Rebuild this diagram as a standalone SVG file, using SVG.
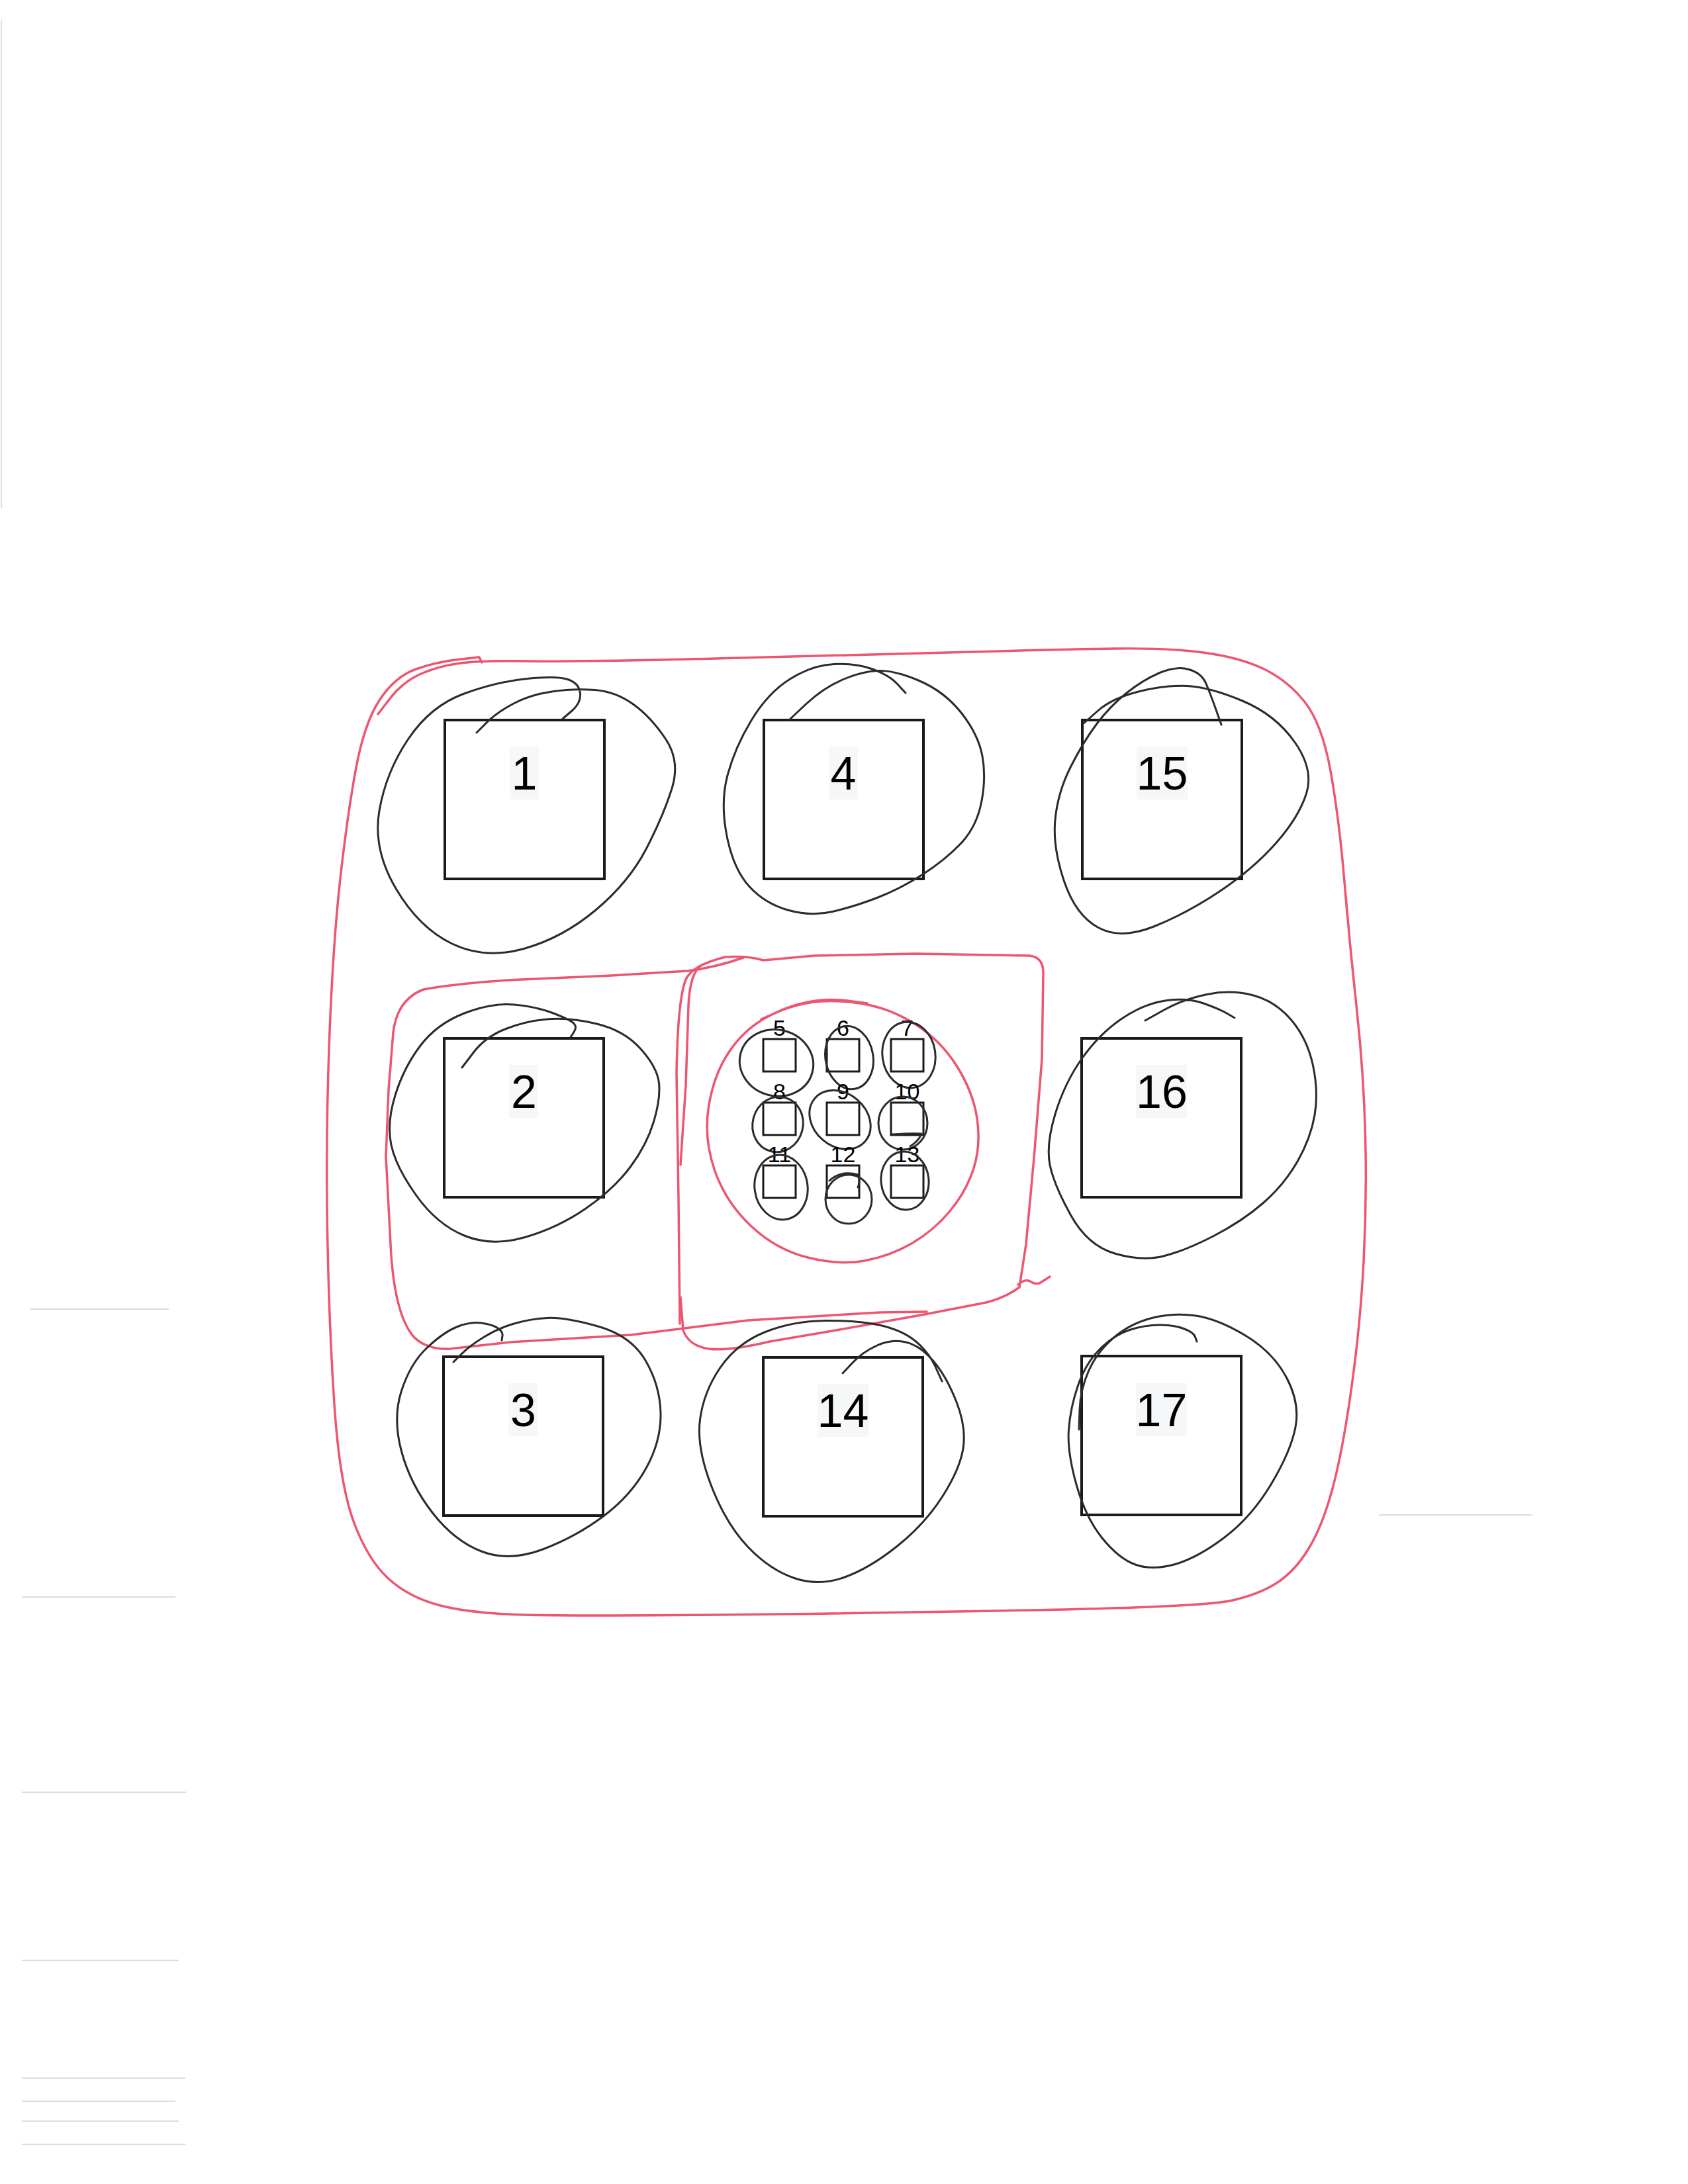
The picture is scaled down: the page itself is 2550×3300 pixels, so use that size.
<svg xmlns="http://www.w3.org/2000/svg" width="2550" height="3300" viewBox="0 0 2550 3300">
<style>
.box{fill:none;stroke:#1a1a1a;stroke-width:4}
.sbox{fill:none;stroke:#1a1a1a;stroke-width:3}
.loop{fill:none;stroke:#2b2b2b;stroke-width:3;stroke-linecap:round;stroke-linejoin:round}
.red{fill:none;stroke:#ec5670;stroke-width:3.5;stroke-linecap:round;stroke-linejoin:round}
.bg{fill:#f6f7f9}
.lbl{font-family:"Liberation Sans",Arial,sans-serif;font-size:70px;text-anchor:middle;fill:#000}
.slbl{font-family:"Liberation Sans",Arial,sans-serif;font-size:34px;text-anchor:middle;fill:#000}
.scan{stroke:#c8c8c8;stroke-width:2;opacity:0.6}
</style>
<rect width="2550" height="3300" fill="#ffffff"/>
<g id="scan-marks">
<line class="scan" x1="2" y1="31" x2="2" y2="768" stroke-width="4"/>
<line class="scan" x1="33" y1="2413" x2="265" y2="2413"/>
<line class="scan" x1="33" y1="2708" x2="281" y2="2708"/>
<line class="scan" x1="45" y1="1978" x2="255" y2="1978" opacity="0.3"/>
<line class="scan" x1="33" y1="2962" x2="270" y2="2962" opacity="0.4"/>
<line class="scan" x1="33" y1="3140" x2="280" y2="3140"/>
<line class="scan" x1="33" y1="3175" x2="265" y2="3175"/>
<line class="scan" x1="33" y1="3205" x2="270" y2="3205"/>
<line class="scan" x1="33" y1="3240" x2="280" y2="3240"/>
<line class="scan" x1="2083" y1="2289" x2="2315" y2="2289" opacity="0.3"/>
</g>
<g id="connectors">
<path id="outer-group" class="red" d="M571,1079 L589.5,1055 Q608,1031 634,1019 Q660,1007 692,1002.5 Q724,998 797.5,999 Q871,1000 1081.5,995 Q1292,990 1450,985.5 Q1608,981 1686.5,980 Q1765,979 1818,986 Q1871,993 1907.5,1010 Q1944,1027 1970.5,1060 Q1997,1093 2010,1165 Q2023,1237 2031,1332.5 Q2039,1428 2049.5,1524 Q2060,1620 2062.5,1715.5 Q2065,1811 2060,1906.5 Q2055,2002 2041.5,2098 Q2028,2194 2012.5,2251 Q1997,2308 1976,2341.5 Q1955,2375 1928.5,2392 Q1902,2409 1860,2418.5 Q1818,2428 1555,2433 Q1292,2438 1081.5,2440 Q871,2442 792,2440 Q713,2438 665.5,2426 Q618,2414 586.5,2385 Q555,2356 534,2298.5 Q513,2241 505,2121.5 Q497,2002 494.5,1858.5 Q492,1715 497.5,1571.5 Q503,1428 513.5,1332.5 Q524,1237 537,1165 Q550,1093 573.5,1057.5 Q597,1022 628.5,1011 Q660,1000 692,996.5 L724,993 L728,1001"/>
<path id="left-group" class="red" d="M1123,1447 Q1080,1462 1039,1467 L924,1474 L766,1481 Q680,1487 640,1495 Q600,1510 594,1560 L587,1647 L583,1747 L590,1880 Q595,1985 625,2020 Q645,2040 680,2038 L770,2028 L953,2017 L1130,1995 L1330,1983 L1400,1982"/>
<path id="center-group" class="red" d="M1027,2000 L1025,1811 L1022,1620 Q1024,1510 1036,1480 Q1046,1458 1096,1446 Q1130,1444 1153,1451 L1230,1444 L1383,1441 L1555,1444 Q1576,1446 1576,1470 L1574,1600 L1562,1750 L1550,1880 L1540,1945 M1540,1945 Q1520,1960 1490,1968 L1397,1986 L1263,2010 L1163,2027 Q1100,2042 1070,2038 Q1040,2033 1032,2010 L1028,1960 M1060,1458 Q1042,1470 1040,1520 L1036,1640 L1028,1760 M1538,1941 Q1548,1932 1556,1936 Q1566,1942 1572,1938 L1586,1929"/>
<path id="inner-group" class="red" d="M1150,1540 L1175,1529 Q1200,1518 1230,1514 Q1260,1510 1302,1516.5 Q1344,1523 1382.5,1547.5 Q1421,1572 1445.5,1611 Q1470,1650 1476,1690 Q1482,1730 1471,1765 Q1460,1800 1435,1830 Q1410,1860 1377,1879 Q1344,1898 1306,1905 Q1268,1912 1220,1900 Q1172,1888 1134,1852 Q1096,1816 1079.5,1768 Q1063,1720 1070.5,1672.5 Q1078,1625 1100,1591.5 Q1122,1558 1153,1540 Q1184,1522 1216.5,1515 Q1249,1508 1279.5,1512 L1310,1516"/>
</g>
<g id="node-1">
<rect class="box" x="672" y="1088" width="241" height="240"/>
<rect class="bg" x="770" y="1128" width="44" height="80"/>
<text class="lbl" x="792" y="1193">1</text>
<path class="loop" d="M720,1107 L735,1092 Q750,1077 775,1063.5 Q800,1050 833.5,1045 Q867,1040 898.5,1042.5 Q930,1045 956.5,1064 Q983,1083 1005.5,1116.5 Q1028,1150 1015,1191.5 Q1002,1233 976,1283 Q950,1333 900,1375 Q850,1417 791.5,1433.5 Q733,1450 683,1426 Q633,1402 598,1342.5 Q563,1283 573,1225 Q583,1167 616.5,1117 Q650,1067 700,1048.5 Q750,1030 796.5,1025.5 Q843,1021 859,1027 Q875,1033 876.5,1047.5 Q878,1062 864,1074 L850,1086"/>
</g>
<g id="node-4">
<rect class="box" x="1154" y="1088" width="241" height="240"/>
<rect class="bg" x="1252" y="1128" width="44" height="80"/>
<text class="lbl" x="1274" y="1193">4</text>
<path class="loop" d="M1193,1087 L1218,1063.5 Q1243,1040 1271.5,1027.5 Q1300,1015 1325,1013.5 Q1350,1012 1388.5,1028.5 Q1427,1045 1452.5,1077.5 Q1478,1110 1484,1142.5 Q1490,1175 1482.5,1212.5 Q1475,1250 1451,1275 Q1427,1300 1393.5,1321.5 Q1360,1343 1325,1356.5 Q1290,1370 1257.5,1377.5 Q1225,1385 1190,1375 Q1155,1365 1131.5,1339 Q1108,1313 1098,1263 Q1088,1213 1099,1171.5 Q1110,1130 1135,1088.5 Q1160,1047 1193.5,1026 Q1227,1005 1260,1003.5 Q1293,1002 1318,1011 Q1343,1020 1355.5,1033.5 L1368,1047"/>
</g>
<g id="node-15">
<rect class="box" x="1635" y="1088" width="241" height="240"/>
<rect class="bg" x="1717" y="1128" width="77" height="80"/>
<text class="lbl" x="1755.5" y="1193">15</text>
<path class="loop" d="M1637,1093 L1658.5,1074 Q1680,1055 1720,1045 Q1760,1035 1793.5,1036.5 Q1827,1038 1877,1059 Q1927,1080 1956,1121.5 Q1985,1163 1973.5,1199 Q1962,1235 1927.5,1274 Q1893,1313 1843,1346.5 Q1793,1380 1743,1400 Q1693,1420 1659,1401.5 Q1625,1383 1607.5,1331.5 Q1590,1280 1594,1238.5 Q1598,1197 1617.5,1158.5 Q1637,1120 1657,1093.5 Q1677,1067 1702,1047 Q1727,1027 1752,1016.5 Q1777,1006 1796,1011.5 Q1815,1017 1821.5,1032 Q1828,1047 1836.5,1071 L1845,1095"/>
</g>
<g id="node-2">
<rect class="box" x="671" y="1569" width="241" height="240"/>
<rect class="bg" x="769" y="1609" width="44" height="80"/>
<text class="lbl" x="791.5" y="1674">2</text>
<path class="loop" d="M698,1613 L715.5,1590 Q733,1567 763,1555 Q793,1543 826.5,1540 Q860,1537 901.5,1547 Q943,1557 968,1585 Q993,1613 995.5,1636.5 Q998,1660 987.5,1695 Q977,1730 952,1763.5 Q927,1797 885,1826 Q843,1855 793,1869.5 Q743,1884 701.5,1867 Q660,1850 629,1806.5 Q598,1763 591,1730 Q584,1697 597,1655 Q610,1613 635,1580 Q660,1547 701.5,1531 Q743,1515 776.5,1518 Q810,1521 836,1531 Q862,1541 867,1546.5 Q872,1552 867,1559.5 L862,1567"/>
</g>
<g id="node-16">
<rect class="box" x="1634" y="1569" width="241" height="240"/>
<rect class="bg" x="1716" y="1609" width="77" height="80"/>
<text class="lbl" x="1755" y="1674">16</text>
<path class="loop" d="M1730,1542 L1758.5,1526 Q1787,1510 1823.5,1502.5 Q1860,1495 1893.5,1504 Q1927,1513 1951,1541.5 Q1975,1570 1983.5,1610 Q1992,1650 1986,1685 Q1980,1720 1960,1755 Q1940,1790 1908.5,1817.5 Q1877,1845 1833.5,1867.5 Q1790,1890 1757.5,1898 Q1725,1906 1684,1894 Q1643,1882 1617.5,1836 Q1592,1790 1586,1760 Q1580,1730 1594,1683.5 Q1608,1637 1634,1600 Q1660,1563 1693.5,1540 Q1727,1517 1760,1512 Q1793,1507 1818,1516 Q1843,1525 1854,1531.5 L1865,1538"/>
</g>
<g id="node-3">
<rect class="box" x="670" y="2050" width="241" height="240"/>
<rect class="bg" x="768" y="2090" width="44" height="80"/>
<text class="lbl" x="790.5" y="2155">3</text>
<path class="loop" d="M685,2058 L697.5,2045.5 Q710,2033 731.5,2020 Q753,2007 776.5,2000 Q800,1993 826.5,1991.5 Q853,1990 903,2004 Q953,2018 975,2055.5 Q997,2093 998,2135 Q999,2177 976,2218.5 Q953,2260 911.5,2291 Q870,2322 820,2341 Q770,2360 728.5,2344.5 Q687,2329 653.5,2286 Q620,2243 606.5,2193 Q593,2143 606.5,2101.5 Q620,2060 645,2036.5 Q670,2013 690,2005 Q710,1997 726.5,1999 Q743,2001 751.5,2006.5 Q760,2012 759,2018.5 L758,2025"/>
</g>
<g id="node-14">
<rect class="box" x="1153" y="2051" width="241" height="240"/>
<rect class="bg" x="1235" y="2091" width="77" height="80"/>
<text class="lbl" x="1273.5" y="2156">14</text>
<path class="loop" d="M1273,2075 L1288,2059 Q1303,2043 1325,2033 Q1347,2023 1368.5,2028 Q1390,2033 1410,2056.5 Q1430,2080 1445,2118.5 Q1460,2157 1455,2188.5 Q1450,2220 1423.5,2261.5 Q1397,2303 1355,2336.5 Q1313,2370 1275,2383.5 Q1237,2397 1200,2384.5 Q1163,2372 1130,2337.5 Q1097,2303 1074.5,2245 Q1052,2187 1057.5,2145 Q1063,2103 1088,2066.5 Q1113,2030 1155,2013 Q1197,1996 1247,1995.5 Q1297,1995 1330,2002.5 Q1363,2010 1383,2026.5 Q1403,2043 1413,2065 L1423,2087"/>
</g>
<g id="node-17">
<rect class="box" x="1634" y="2049" width="241" height="240"/>
<rect class="bg" x="1716" y="2090" width="77" height="80"/>
<text class="lbl" x="1754.5" y="2155">17</text>
<path class="loop" d="M1808,2027 L1805.5,2020 Q1803,2013 1788,2007.5 Q1773,2002 1751.5,2002 Q1730,2002 1706.5,2009.5 Q1683,2017 1661.5,2038.5 Q1640,2060 1628.5,2093.5 Q1617,2127 1614.5,2160 Q1612,2193 1626,2243 Q1640,2293 1665,2324 Q1690,2355 1715,2364 Q1740,2373 1773.5,2364 Q1807,2355 1848.5,2324 Q1890,2293 1920,2243 Q1950,2193 1957,2156.5 Q1964,2120 1943.5,2081.5 Q1923,2043 1881.5,2018 Q1840,1993 1806.5,1988 Q1773,1983 1740,1991.5 Q1707,2000 1682,2021.5 Q1657,2043 1644.5,2071.5 Q1632,2100 1631,2130 L1630,2160"/>
</g>
<g id="node-5">
<rect class="sbox" x="1153" y="1570" width="49" height="49"/>
<text class="slbl" x="1177.5" y="1565">5</text>
<ellipse class="loop" cx="1173" cy="1606" rx="56" ry="50" transform="rotate(15 1173 1606)"/>
</g>
<g id="node-6">
<rect class="sbox" x="1249" y="1570" width="49" height="49"/>
<text class="slbl" x="1273.5" y="1565">6</text>
<ellipse class="loop" cx="1283" cy="1598" rx="36" ry="48" transform="rotate(-10 1283 1598)"/>
</g>
<g id="node-7">
<rect class="sbox" x="1346" y="1570" width="49" height="49"/>
<text class="slbl" x="1370.5" y="1565">7</text>
<ellipse class="loop" cx="1373" cy="1594" rx="40" ry="50" transform="rotate(-8 1373 1594)"/>
</g>
<g id="node-8">
<rect class="sbox" x="1153" y="1666" width="49" height="49"/>
<text class="slbl" x="1177.5" y="1661">8</text>
<ellipse class="loop" cx="1175" cy="1699" rx="38" ry="42" transform="rotate(15 1175 1699)"/>
</g>
<g id="node-9">
<rect class="sbox" x="1249" y="1666" width="49" height="49"/>
<text class="slbl" x="1273.5" y="1661">9</text>
<ellipse class="loop" cx="1269" cy="1692" rx="50" ry="40" transform="rotate(40 1269 1692)"/>
</g>
<g id="node-10">
<rect class="sbox" x="1346" y="1666" width="49" height="49"/>
<text class="slbl" x="1370.5" y="1661">10</text>
<ellipse class="loop" cx="1364" cy="1697" rx="37" ry="40"/>
<path class="loop" d="M1348,1714 Q1380,1712 1392,1713 Q1388,1724 1375,1732"/>
</g>
<g id="node-11">
<rect class="sbox" x="1153" y="1761" width="49" height="49"/>
<text class="slbl" x="1177.5" y="1756">11</text>
<ellipse class="loop" cx="1180" cy="1794" rx="40" ry="49" transform="rotate(-8 1180 1794)"/>
</g>
<g id="node-12">
<rect class="sbox" x="1249" y="1761" width="49" height="49" stroke-width="3.5"/>
<text class="slbl" x="1273.5" y="1756">12</text>
<ellipse class="loop" cx="1282" cy="1812" rx="35" ry="37" stroke-width="4"/>
<path class="loop" d="M1253,1784 Q1270,1768 1296,1775 Q1300,1785 1296,1794" stroke-width="2"/>
</g>
<g id="node-13">
<rect class="sbox" x="1346" y="1761" width="49" height="49"/>
<text class="slbl" x="1370.5" y="1756">13</text>
<ellipse class="loop" cx="1367" cy="1784" rx="36" ry="44" transform="rotate(-6 1367 1784)"/>
</g>
</svg>
